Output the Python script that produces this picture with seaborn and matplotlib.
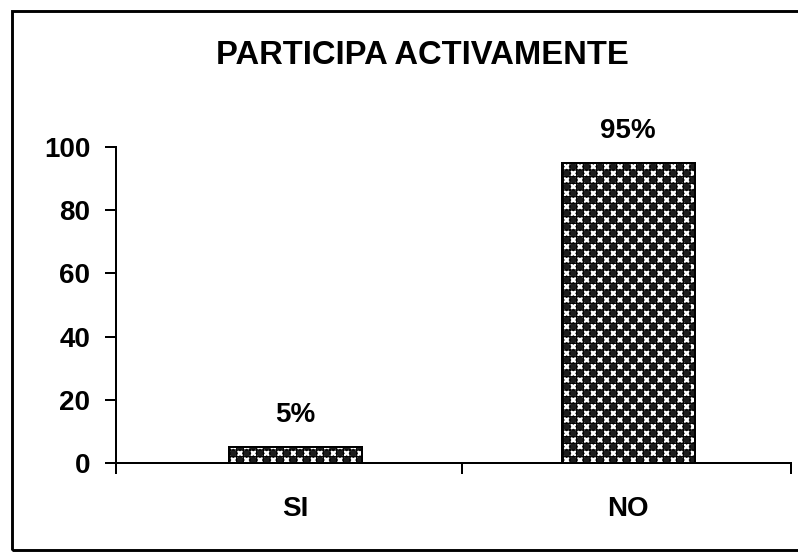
import matplotlib
matplotlib.use("Agg")
import matplotlib.pyplot as plt
from matplotlib.patches import Rectangle
import seaborn as sns
import pandas as pd

categories = ["SI", "NO"]
percentages = [5, 95]
y_ticks = [0, 20, 40, 60, 80, 100]
title = "PARTICIPA ACTIVAMENTE"

sns.set_style("white")
plt.rcParams["font.family"] = ["Liberation Sans", "DejaVu Sans"]
plt.rcParams["hatch.linewidth"] = 1.5
plt.rcParams["text.color"] = "black"
plt.rcParams["xtick.color"] = "black"
plt.rcParams["ytick.color"] = "black"

df = pd.DataFrame({"respuesta": categories, "porcentaje": percentages})

DPI = 80
fig = plt.figure(figsize=(798 / DPI, 556 / DPI), dpi=DPI)
fig.patch.set_facecolor("white")
ax = fig.add_axes([0.1454, 0.1673, 0.8459, 0.5683])


def hatch_width(patch, lw):
    if hasattr(patch, "set_hatch_linewidth"):
        patch.set_hatch_linewidth(lw)


# dark bars with white diagonal crosses
sns.barplot(data=df, x="respuesta", y="porcentaje", color="#1c1c1c",
            width=0.40, ax=ax, saturation=1)
for p in ax.patches:
    p.set_edgecolor("white")
    p.set_linewidth(0)
    p.set_hatch("xx")
    hatch_width(p, 2.2)
n_fill = len(ax.patches)

# black grid + outline on top, splitting the diagonals into small x's
sns.barplot(data=df, x="respuesta", y="porcentaje", color="black",
            width=0.40, ax=ax, fill=False, linewidth=1.8)
for p in ax.patches[n_fill:]:
    p.set_hatch("++")
    p.set_edgecolor("black")
    hatch_width(p, 1.1)

ax.set_xlim(-0.54, 1.49)
ax.set_ylim(0, 100)
ax.set_yticks(y_ticks)
ax.set_xlabel("")
ax.set_ylabel("")

for side in ["top", "right"]:
    ax.spines[side].set_visible(False)
for side in ["left", "bottom"]:
    ax.spines[side].set_linewidth(1.8)
    ax.spines[side].set_color("black")

ax.tick_params(axis="y", direction="out", length=10, width=1.8,
               pad=13, labelsize=25, left=True)
ax.tick_params(axis="x", which="major", length=0, pad=30, labelsize=25)
ax.set_xticks([-0.54, 0.5, 1.49], minor=True)
ax.tick_params(axis="x", which="minor", direction="out", length=10,
               width=1.8, bottom=True)
for lbl in ax.get_xticklabels() + ax.get_yticklabels():
    lbl.set_fontweight("bold")

ax.bar_label(ax.containers[0], labels=[f"{v}%" for v in percentages],
             padding=17, fontsize=25, fontweight="bold")

fig.text(0.529, 0.901, title, ha="center", va="center",
         fontsize=29.5, fontweight="bold")

fig.patches.append(Rectangle((12 / 798, 6 / 556), 1.0, 539 / 556,
                             transform=fig.transFigure, fill=False,
                             edgecolor="black", linewidth=2.6))

fig.savefig("out.png", dpi=DPI, facecolor="white")
